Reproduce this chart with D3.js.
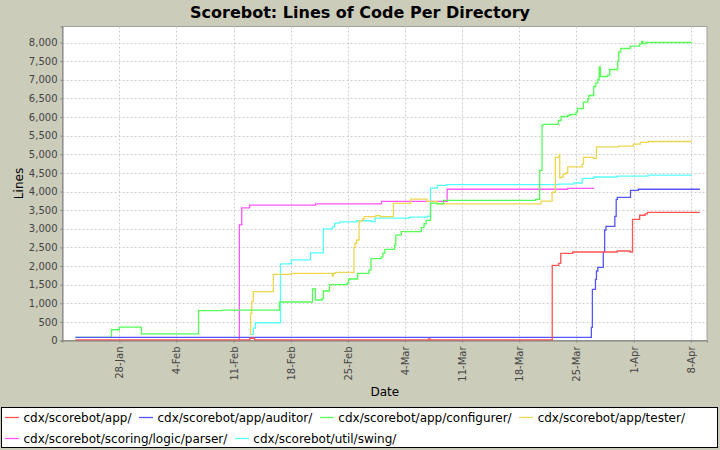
<!DOCTYPE html>
<html><head><meta charset="utf-8">
<script src="https://cdn.jsdelivr.net/npm/d3@7"></script>
<style>
body{margin:0;background:#CCCCBB;}
svg{display:block;font-family:"DejaVu Sans",sans-serif;}
</style>
</head><body>
<svg id="chart" width="720" height="450"></svg>
<script>
const chartTitle = "Scorebot: Lines of Code Per Directory";
const xTitle = "Date";
const yTitle = "Lines";
const year = 2007;
const xDomainStart = "01-21 01:00";
const xDomainEnd = "04-10 00:00";
const yDomainMax = 8430;
const xTickDates = ["01-28","02-04","02-11","02-18","02-25","03-04","03-11","03-18","03-25","04-01","04-08"];
const yTickValues = [0,500,1000,1500,2000,2500,3000,3500,4000,4500,5000,5500,6000,6500,7000,7500,8000];

const seriesNames = ["cdx/scorebot/app/","cdx/scorebot/app/auditor/","cdx/scorebot/app/configurer/","cdx/scorebot/app/tester/","cdx/scorebot/scoring/logic/parser/","cdx/scorebot/util/swing/"];
const seriesColors = ["#FF5555","#5555FF","#55FF55","#EDD650","#FF55FF","#55FFFF"];

const appData = [["01-22 15:00",13],["02-13 00:00",60],["02-13 14:00",13],["03-06 21:00",40],["03-07 02:00",13],["03-22 01:00",2019],["03-22 20:00",2073],["03-23 02:00",2341],["03-24 13:00",2376],["03-30 00:00",2403],["03-31 14:00",2376],["03-31 21:00",3254],["04-01 18:00",3362],["04-02 10:00",3397],["04-02 17:00",3442],["04-09 03:00",3442]];
const auditorData = [["01-22 15:00",86],["03-26 20:00",354],["03-26 23:00",1374],["03-27 08:00",1643],["03-27 11:00",1866],["03-27 15:00",1965],["03-28 07:00",2385],["03-28 11:00",2967],["03-28 15:00",3066],["03-29 17:00",3335],["03-29 21:00",3791],["03-30 00:30",3845],["03-31 15:00",4033],["04-01 14:00",4060],["04-09 03:00",4060]];
const configurerData = [["01-22 15:00",86],["01-27 01:00",288],["01-28 00:00",360],["01-30 17:00",180],["02-06 17:00",800],["02-09 15:00",817],["02-16 15:00",1033],["02-20 16:00",1382],["02-21 00:30",1087],["02-21 20:00",1122],["02-22 00:00",1329],["02-22 18:00",1498],["02-24 22:00",1540],["02-25 02:00",1651],["02-26 05:00",1804],["02-27 14:00",1890],["02-27 20:00",2200],["03-01 02:00",2245],["03-01 07:00",2345],["03-01 13:00",2448],["03-02 17:30",2560],["03-02 21:00",2830],["03-03 13:00",2925],["03-06 00:00",3029],["03-06 08:00",3135],["03-06 14:00",3225],["03-07 03:00",3690],["03-07 22:00",3670],["03-08 17:30",3760],["03-20 00:00",3790],["03-20 12:00",4565],["03-20 19:00",5782],["03-20 23:30",5800],["03-22 19:00",5907],["03-23 03:00",6014],["03-23 22:30",6041],["03-24 05:30",6068],["03-24 23:00",6130],["03-25 03:00",6229],["03-25 20:30",6399],["03-26 09:30",6488],["03-26 12:30",6578],["03-27 03:00",6819],["03-27 09:00",6918],["03-27 15:00",7007],["03-27 19:00",7347],["03-27 22:30",7088],["03-28 20:00",7123],["03-29 02:00",7275],["03-30 01:30",7508],["03-30 04:30",7750],["03-30 10:30",7839],["03-31 14:00",7902],["04-01 18:00",7964],["04-02 00:00",8030],["04-02 04:00",7970],["04-02 12:00",8000],["04-08 03:00",8000]];
const testerData = [["02-13 00:00",160],["02-13 02:00",730],["02-13 05:30",1042],["02-13 10:00",1310],["02-15 21:00",1777],["02-18 02:00",1804],["02-23 02:30",1732],["02-23 05:30",1804],["02-23 11:30",1831],["02-25 18:00",2500],["02-25 21:00",2610],["02-26 02:00",2698],["02-26 09:00",3208],["02-26 19:00",3262],["02-27 00:00",3325],["02-28 10:00",3351],["02-28 23:00",3325],["03-02 14:00",3680],["03-04 16:30",3795],["03-06 17:00",3735],["03-08 00:00",3670],["03-20 16:00",3740],["03-22 00:30",3980],["03-22 10:00",4914],["03-22 22:00",4995],["03-22 23:00",4368],["03-23 03:00",4386],["03-23 09:30",4467],["03-23 17:00",4500],["03-23 22:30",4664],["03-25 17:00",4735],["03-25 21:00",4914],["03-27 02:00",4887],["03-27 11:00",5200],["03-30 03:30",5218],["03-31 23:30",5272],["04-01 20:00",5317],["04-02 19:30",5343],["04-08 03:00",5343]];
const parserData = [["02-11 13:00",0],["02-11 17:00",3104],["02-12 00:00",3561],["02-12 23:00",3632],["02-21 01:00",3669],["03-01 03:00",3736],["03-09 04:00",4060],["03-23 22:00",4086],["03-27 04:00",4086]];
const swingData = [["02-12 23:00",165],["02-13 10:00",330],["02-13 16:00",476],["02-16 18:00",2055],["02-18 02:00",2163],["02-20 10:00",2351],["02-22 00:00",2996],["02-23 02:30",3050],["02-23 09:00",3150],["02-24 00:00",3185],["02-26 02:00",3215],["02-27 22:00",3190],["02-28 08:00",3285],["03-04 13:00",3310],["03-06 18:30",3336],["03-07 03:00",4089],["03-07 23:00",4165],["03-09 02:00",4185],["03-22 19:30",4200],["03-24 15:30",4228],["03-25 17:00",4340],["03-25 22:30",4355],["03-27 03:00",4390],["03-30 00:00",4415],["04-02 18:30",4440],["04-08 03:00",4440]];

const allSeries = [appData, auditorData, configurerData, testerData, parserData, swingData];

// ---------- drawing ----------
const W = 720, H = 450;
const M = {left: 62.5, right: 707, top: 26.5, bottom: 340.5};
const parseDT = d3.timeParse("%Y-%m-%d %H:%M");
const parseD = d3.timeParse("%Y-%m-%d");
const dt = s => parseDT(year + "-" + s);

const svg = d3.select("#chart");
svg.append("rect").attr("width", W).attr("height", H).attr("fill", "#CCCCBB");

const x = d3.scaleTime().domain([dt(xDomainStart), dt(xDomainEnd)]).range([M.left, M.right]);
const y = d3.scaleLinear().domain([0, yDomainMax]).range([M.bottom, M.top]);

// plot background
svg.append("rect").attr("x", M.left).attr("y", M.top)
  .attr("width", M.right - M.left).attr("height", M.bottom - M.top)
  .attr("fill", "#FFFFFF").attr("stroke", "#A0A0A0").attr("stroke-width", 1);

const xTicks = xTickDates.map(s => parseD(year + "-" + s));

// gridlines
const grid = svg.append("g").attr("stroke", "#CFCFCF").attr("stroke-width", 1).attr("stroke-dasharray", "2,2");
grid.selectAll("line.gx").data(xTicks).join("line")
  .attr("x1", d => Math.round(x(d)) + 0.5).attr("x2", d => Math.round(x(d)) + 0.5)
  .attr("y1", M.top).attr("y2", M.bottom);
grid.selectAll("line.gy").data(yTickValues.filter(v => v > 0)).join("line")
  .attr("y1", d => Math.round(y(d)) + 0.5).attr("y2", d => Math.round(y(d)) + 0.5)
  .attr("x1", M.left).attr("x2", M.right);

// series (drawn in reverse order so first series is on top)
const line = d3.line().curve(d3.curveStepAfter).x(d => x(dt(d[0]))).y(d => y(d[1]));
const plotG = svg.append("g");
for (let i = allSeries.length - 1; i >= 0; i--) {
  plotG.append("path").datum(allSeries[i])
    .attr("fill", "none").attr("stroke", seriesColors[i]).attr("stroke-width", 1.3)
    .attr("d", line);
}

// axes
const yAxis = d3.axisLeft(y).tickValues(yTickValues).tickFormat(d3.format(",")).tickSize(2).tickPadding(3);
const yg = svg.append("g").attr("transform", `translate(${M.left},0)`).call(yAxis);
yg.select(".domain").attr("stroke", "#808080");
yg.selectAll(".tick line").attr("stroke", "#808080");
yg.selectAll(".tick text").attr("font-family", "DejaVu Sans").attr("font-size", 10).attr("fill", "#444444");

const xAxis = d3.axisBottom(x).tickValues(xTicks).tickFormat(d3.timeFormat("%-d-%b")).tickSize(2);
const xg = svg.append("g").attr("transform", `translate(0,${M.bottom})`).call(xAxis);
xg.select(".domain").attr("stroke", "#808080");
xg.selectAll(".tick line").attr("stroke", "#808080");
xg.selectAll(".tick text")
  .attr("font-family", "DejaVu Sans").attr("font-size", 10).attr("fill", "#444444")
  .attr("text-anchor", "end").attr("transform", "rotate(-90)")
  .attr("x", -6).attr("y", 0).attr("dy", "0.35em");

// title
svg.append("text").attr("x", 360).attr("y", 17.5).attr("text-anchor", "middle")
  .attr("font-family", "DejaVu Sans").attr("font-weight", "bold").attr("font-size", 16)
  .attr("fill", "#000000").text(chartTitle);

// axis titles
svg.append("text").attr("x", (M.left + M.right) / 2).attr("y", 396).attr("text-anchor", "middle")
  .attr("font-size", 12).attr("fill", "#000000").text(xTitle);
svg.append("text").attr("transform", `translate(23,${(M.top + M.bottom) / 2}) rotate(-90)`)
  .attr("text-anchor", "middle").attr("font-size", 12).attr("fill", "#000000").text(yTitle);

// legend
const legend = svg.append("g");
legend.append("rect").attr("x", 1.5).attr("y", 407.5).attr("width", 716).attr("height", 40)
  .attr("fill", "#FFFFFF").attr("stroke", "#000000");
let lx = 5, ly = 417.5;
seriesNames.forEach((name, i) => {
  const g = legend.append("g");
  const t = g.append("text").attr("font-size", 12).attr("fill", "#000000").attr("dy", "0.35em").text(name);
  const tw = t.node().getComputedTextLength();
  if (lx + 18.5 + tw > 714) { lx = 5; ly = 438.5; }
  g.append("line").attr("x1", lx).attr("x2", lx + 14).attr("y1", ly).attr("y2", ly)
    .attr("stroke", seriesColors[i]).attr("stroke-width", 1.3);
  t.attr("x", lx + 18.5).attr("y", ly);
  lx = lx + 18.5 + tw + 7.5;
});
</script>
</body></html>
